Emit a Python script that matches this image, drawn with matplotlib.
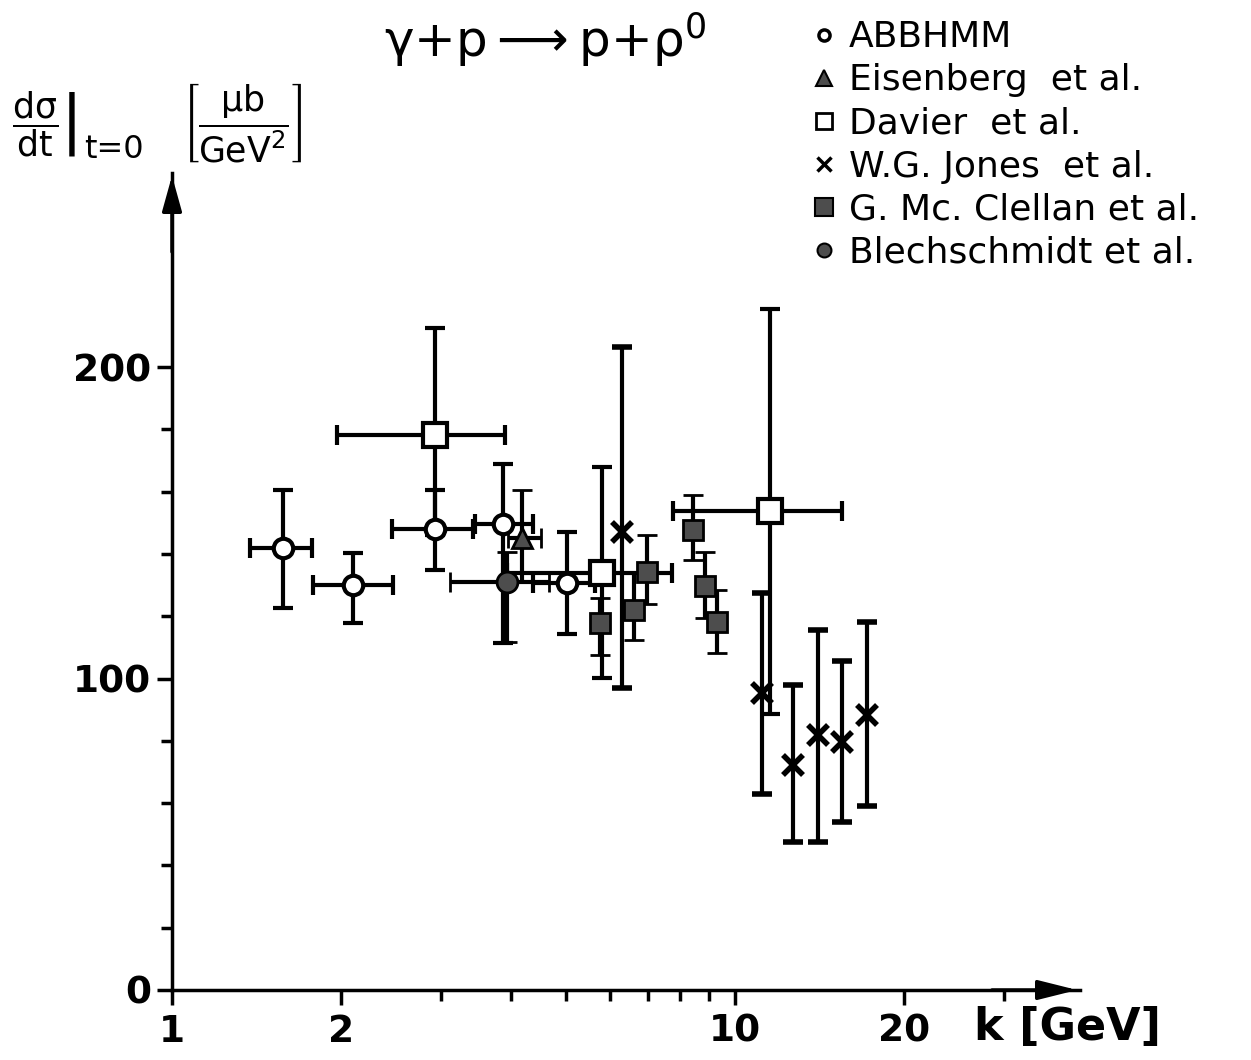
import numpy as np
import matplotlib
matplotlib.use("Agg")
import matplotlib.pyplot as plt
from matplotlib.lines import Line2D

# --- datos (k en GeV, dsigma/dt en mub/GeV^2) ---
abb_k = [1.575, 2.10, 2.93, 3.87, 5.03]
abb_y = [142.0, 130.0, 148.0, 149.6, 130.7]
abb_ylo = [122.6, 117.8, 134.8, 111.4, 114.3]
abb_yhi = [160.5, 140.3, 160.5, 168.9, 147.0]
abb_klo = [1.376, 1.78, 2.46, 3.45, 4.38]
abb_khi = [1.77, 2.47, 3.42, 4.38, 5.64]

eis_k = [4.18]
eis_y = [145.0]
eis_ylo = [131.0]
eis_yhi = [160.5]
eis_klo = [3.95]
eis_khi = [4.53]

dav_k = [2.93, 5.80, 11.54]
dav_y = [178.2, 133.9, 153.8]
dav_ylo = [146.0, 100.2, 88.6]
dav_yhi = [212.5, 167.9, 218.6]
dav_klo = [1.96, 3.94, 7.77]
dav_khi = [3.90, 7.72, 15.5]

jon_k = [6.30, 11.17, 12.68, 14.03, 15.5, 17.16]
jon_y = [147.0, 95.3, 72.2, 81.9, 79.6, 88.3]
jon_ylo = [97.0, 62.9, 47.5, 47.5, 53.9, 59.0]
jon_yhi = [206.4, 127.4, 98.0, 115.6, 105.6, 118.1]

mcc_k = [5.75, 6.62, 6.98, 8.43, 8.85, 9.29]
mcc_y = [117.8, 122.0, 134.2, 147.7, 129.7, 118.1]
mcc_ylo = [107.5, 112.4, 124.0, 138.0, 119.4, 108.2]
mcc_yhi = [126.0, 134.0, 146.0, 158.9, 140.6, 128.4]

ble_k = [3.93]
ble_y = [131.0]
ble_ylo = [111.7]
ble_yhi = [140.6]
ble_klo = [3.12]
ble_khi = [4.67]

x_major = [1, 2, 10, 20]
x_minor = [3, 4, 5, 6, 7, 8, 9, 30]
y_major = [0, 100, 200]
y_minor = [20, 40, 60, 80, 120, 140, 160, 180]

plt.rcParams["font.family"] = ["DejaVu Sans"]
plt.rcParams["mathtext.fontset"] = "dejavusans"
plt.rcParams["mathtext.default"] = "regular"


def asym(c, lo, hi):
    c = np.array(c)
    return [c - np.array(lo), np.array(hi) - c]


fig = plt.figure(figsize=(12.51, 10.60), dpi=100)
ax = fig.add_axes([172 / 1251, 70 / 1060, 908 / 1251, 817 / 1060])
ax.set_xscale("log")
ax.set_xlim(1, 10 ** (908 / 563))
ax.set_ylim(0, 817 / 3.115)

ebkw = dict(ecolor="black", elinewidth=3, capsize=7, capthick=3, linestyle="none", zorder=3)

ax.errorbar(abb_k, abb_y, xerr=asym(abb_k, abb_klo, abb_khi), yerr=asym(abb_y, abb_ylo, abb_yhi),
            marker="o", ms=14, mfc="white", mec="black", mew=3, **ebkw)
ax.errorbar(eis_k, eis_y, xerr=asym(eis_k, eis_klo, eis_khi), yerr=asym(eis_y, eis_ylo, eis_yhi),
            marker="^", ms=15, mfc="0.3", mec="black", mew=2, **ebkw)
ax.errorbar(dav_k, dav_y, xerr=asym(dav_k, dav_klo, dav_khi), yerr=asym(dav_y, dav_ylo, dav_yhi),
            marker="s", ms=17, mfc="white", mec="black", mew=3, **ebkw)
ax.errorbar(jon_k, jon_y, yerr=asym(jon_y, jon_ylo, jon_yhi),
            marker="x", ms=15, mec="black", mew=4, **ebkw)
ax.errorbar(mcc_k, mcc_y, yerr=asym(mcc_y, mcc_ylo, mcc_yhi),
            marker="s", ms=15, mfc="0.3", mec="black", mew=2, **ebkw)
ax.errorbar(ble_k, ble_y, xerr=asym(ble_k, ble_klo, ble_khi), yerr=asym(ble_y, ble_ylo, ble_yhi),
            marker="o", ms=15, mfc="0.3", mec="black", mew=2, **ebkw)

# ejes con flechas
for s in ["top", "right"]:
    ax.spines[s].set_visible(False)
for s in ["left", "bottom"]:
    ax.spines[s].set_linewidth(2.5)
ax.annotate("", xy=(1.0, 0), xytext=(0.9, 0), xycoords="axes fraction",
            arrowprops=dict(arrowstyle="-|>,head_length=0.8,head_width=0.2", lw=2.5,
                            color="black", mutation_scale=30))
ax.annotate("", xy=(0, 1.0), xytext=(0, 0.9), xycoords="axes fraction",
            arrowprops=dict(arrowstyle="-|>,head_length=0.72,head_width=0.2", lw=2.5,
                            color="black", mutation_scale=30))

ax.set_xticks(x_major)
ax.set_xticklabels([str(v) for v in x_major])
ax.set_xticks(x_minor, minor=True)
ax.set_xticklabels([], minor=True)
ax.set_yticks(y_major)
ax.set_yticklabels([str(v) for v in y_major])
ax.set_yticks(y_minor, minor=True)
ax.tick_params(which="major", direction="out", length=11, width=2.5, labelsize=27, pad=6)
ax.tick_params(which="minor", direction="out", length=8, width=2.5)
ax.tick_params(axis="y", which="major", pad=4)
for lab in ax.get_xticklabels() + ax.get_yticklabels():
    lab.set_fontweight("bold")

# textos
fig.text(545 / 1251, 1 - 40 / 1060, r"$\gamma$+p$\longrightarrow$p+$\rho^{0}$",
         fontsize=36, ha="center", va="center")
fig.text(12 / 1251, 1 - 124 / 1060, r"$\left.\dfrac{d\sigma}{dt}\right|$",
         fontsize=25, ha="left", va="center")
fig.text(84 / 1251, 1 - 150 / 1060, "t=0", fontsize=23, ha="left", va="center")
fig.text(182 / 1251, 1 - 122 / 1060, r"$\left[\dfrac{\mu b}{GeV^2}\right]$",
         fontsize=25, ha="left", va="center")
fig.text(1067 / 1251, 1 - 1028 / 1060, "k [GeV]", fontsize=32, fontweight="bold",
         ha="center", va="center")

handles = [
    Line2D([], [], ls="none", marker="o", ms=8, mfc="white", mec="black", mew=2.5),
    Line2D([], [], ls="none", marker="^", ms=12, mfc="0.3", mec="black", mew=1.5),
    Line2D([], [], ls="none", marker="s", ms=12, mfc="white", mec="black", mew=2),
    Line2D([], [], ls="none", marker="x", ms=10, mec="black", mew=2.5),
    Line2D([], [], ls="none", marker="s", ms=13, mfc="0.3", mec="black", mew=1.5),
    Line2D([], [], ls="none", marker="o", ms=10, mfc="0.3", mec="black", mew=1.5),
]
labels = ["ABBHMM", "Eisenberg  et al.", "Davier  et al.", "W.G. Jones  et al.",
          "G. Mc. Clellan et al.", "Blechschmidt et al."]
fig.legend(handles, labels, loc="upper left", bbox_to_anchor=(795 / 1251, 1 - 6 / 1060),
           frameon=False, fontsize=26, handlelength=0.8, handletextpad=0.3,
           labelspacing=0.25, borderaxespad=0)

fig.savefig("out.png", dpi=100)
